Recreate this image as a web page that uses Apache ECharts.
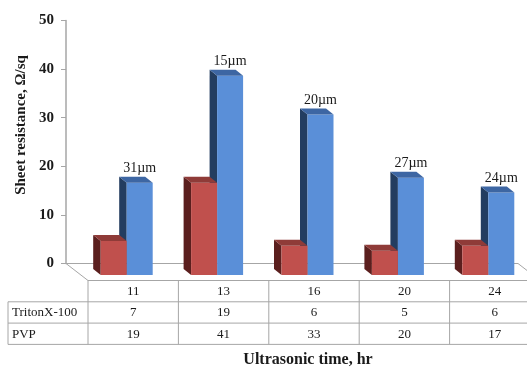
<!DOCTYPE html>
<html>
<head>
<meta charset="utf-8">
<script src="https://cdn.jsdelivr.net/npm/echarts@6/dist/echarts.min.js"></script>
<style>
  html, body { margin: 0; padding: 0; background: #fff; }
  #chart { width: 527px; height: 367px; }
</style>
</head>
<body>
<div id="chart"></div>
<script>
// Ultrasonic time (hr) categories and sheet resistance values (Ω/sq)
const categories = ['11', '13', '16', '20', '24'];
const tritonValues = [7, 19, 6, 5, 6];
const pvpValues = [19, 41, 33, 20, 17];
const pvpLabels = ['31µm', '15µm', '20µm', '27µm', '24µm'];
const rowNames = ['TritonX-100', 'PVP'];
const yMin = 0, yMax = 50, yStep = 10;

const SERIF = '"Liberation Serif", "Times New Roman", serif';
const LINE = '#a6a6a6';
const TEXT = '#1a1a1a';

// pseudo-3D geometry (pixels)
const FLOOR = [22, 17];     // depth of the floor
const FRONT = [15.5, 11.5]; // front plane of the bars relative to the back wall
const DEPTH = [7.5, 6];     // thickness of each bar
const BAR_W = 26;

const COLORS = {
  triton: { face: '#c0504d', side: '#5b1f1e', top: '#8f3b38' },
  pvp:    { face: '#5a8fd8', side: '#233d60', top: '#3d66a3' }
};

function makeRender(values, pal, isRight, labels) {
  return function (params, api) {
    const i = api.value(0);
    const v = api.value(1);
    const base = api.coord([i, 0]);
    const top = api.coord([i, v]);
    const L = base[0] + FRONT[0] + (isRight ? 0 : -BAR_W);
    const by = base[1] + FRONT[1];
    const ty = top[1] + FRONT[1];
    const children = [
      {
        type: 'polygon',
        shape: { points: [[L, ty], [L - DEPTH[0], ty - DEPTH[1]], [L - DEPTH[0], by - DEPTH[1]], [L, by]] },
        style: { fill: pal.side }
      },
      {
        type: 'rect',
        shape: { x: L, y: ty, width: BAR_W, height: by - ty },
        style: { fill: pal.face }
      },
      {
        type: 'polygon',
        shape: { points: [[L, ty], [L + BAR_W, ty], [L + BAR_W - DEPTH[0], ty - DEPTH[1]], [L - DEPTH[0], ty - DEPTH[1]]] },
        style: { fill: pal.top }
      }
    ];
    if (labels) {
      children.push({
        type: 'text',
        style: {
          x: L + BAR_W / 2, y: ty - DEPTH[1] - 1,
          text: labels[params.dataIndex],
          font: '14px ' + SERIF, fill: TEXT,
          align: 'center', verticalAlign: 'bottom'
        }
      });
    }
    return { type: 'group', children: children };
  };
}

const chart = echarts.init(document.getElementById('chart'), null, { renderer: 'canvas' });

chart.setOption({
  animation: false,
  backgroundColor: '#fff',
  grid: { left: 66, top: 20.5, width: 452, height: 243, containLabel: false },
  xAxis: {
    type: 'category',
    data: categories,
    boundaryGap: true,
    axisLine: { show: false },
    axisTick: { show: false },
    axisLabel: { show: false },
    splitLine: { show: false }
  },
  yAxis: {
    type: 'value',
    min: yMin, max: yMax, interval: yStep,
    axisLine: { show: true, lineStyle: { color: LINE, width: 1.5 } },
    axisTick: { show: true, inside: false, length: 5, lineStyle: { color: LINE } },
    axisLabel: { margin: 12, fontFamily: SERIF, fontWeight: 'bold', fontSize: 15, color: TEXT },
    splitLine: { show: false }
  },
  series: [
    {
      type: 'custom', name: 'PVP', z: 3,
      renderItem: makeRender(pvpValues, COLORS.pvp, true, pvpLabels),
      encode: { x: 0, y: 1 },
      data: pvpValues.map((v, i) => [i, v])
    },
    {
      type: 'custom', name: 'TritonX-100', z: 4,
      renderItem: makeRender(tritonValues, COLORS.triton, false, null),
      encode: { x: 0, y: 1 },
      data: tritonValues.map((v, i) => [i, v])
    }
  ]
});

// floor, data table and titles, positioned from the axes
(function () {
  const c0 = chart.convertToPixel({ xAxisIndex: 0 }, 0);
  const c1 = chart.convertToPixel({ xAxisIndex: 0 }, 1);
  const band = c1 - c0;
  const left = c0 - band / 2;
  const right = left + band * categories.length;
  const y0 = chart.convertToPixel({ yAxisIndex: 0 }, 0);
  const fy = y0 + FLOOR[1];
  const g = [];
  const line = (x1, y1, x2, y2) => g.push({
    type: 'line', z: 1, silent: true,
    shape: { x1, y1, x2, y2 },
    style: { stroke: LINE, lineWidth: 1 }
  });
  const text = (x, y, t, font, align) => g.push({
    type: 'text', z: 5, silent: true,
    style: { x, y, text: t, font, fill: TEXT, align: align || 'center', verticalAlign: 'middle' }
  });

  // floor outline
  line(left, y0, right, y0);
  line(left, y0, left + FLOOR[0], fy);
  line(right, y0, right + FLOOR[0], fy);

  // table grid
  const rowH = 21.3;
  const tLeft = 8;
  const colL = left + FLOOR[0];
  const rows = [fy, fy + rowH, fy + 2 * rowH, fy + 3 * rowH];
  line(colL, rows[0], right + FLOOR[0], rows[0]);
  for (let r = 1; r < rows.length; r++) line(tLeft, rows[r], right + FLOOR[0], rows[r]);
  line(tLeft, rows[1], tLeft, rows[3]);
  for (let k = 0; k <= categories.length; k++) {
    const x = colL + k * band;
    line(x, rows[0], x, rows[3]);
  }
  const tf = '13px ' + SERIF;
  categories.forEach((c, k) => {
    const cx = colL + (k + 0.5) * band;
    text(cx, (rows[0] + rows[1]) / 2 + 0.5, c, tf);
    text(cx, (rows[1] + rows[2]) / 2 + 0.5, String(tritonValues[k]), tf);
    text(cx, (rows[2] + rows[3]) / 2 + 0.5, String(pvpValues[k]), tf);
  });
  text(tLeft + 4, (rows[1] + rows[2]) / 2 + 0.5, rowNames[0], tf, 'left');
  text(tLeft + 4, (rows[2] + rows[3]) / 2 + 0.5, rowNames[1], tf, 'left');

  // axis titles
  text(308, 360, 'Ultrasonic time, hr', 'bold 16px ' + SERIF);
  g.push({
    type: 'text', z: 5, silent: true,
    x: 21, y: 125, rotation: Math.PI / 2,
    style: { x: 0, y: 0, text: 'Sheet resistance, Ω/sq', font: 'bold 15px ' + SERIF, fill: TEXT, align: 'center', verticalAlign: 'middle' }
  });

  chart.setOption({ graphic: g });
})();
</script>
</body>
</html>
